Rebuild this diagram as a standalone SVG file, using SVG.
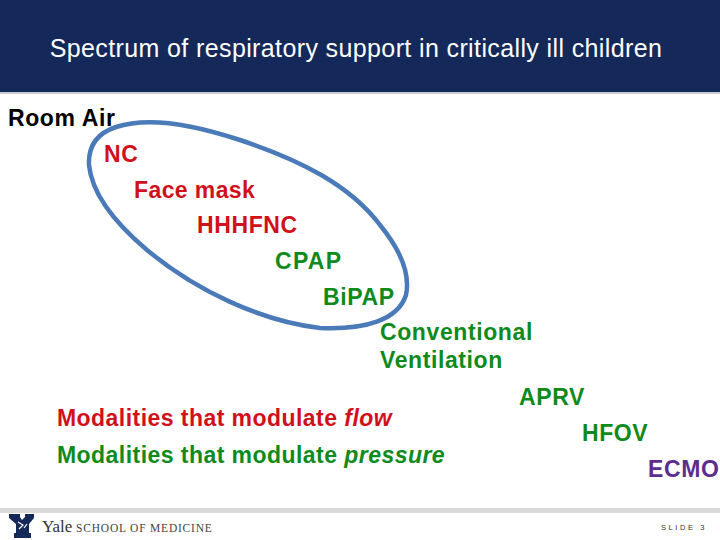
<svg xmlns="http://www.w3.org/2000/svg" width="720" height="540" viewBox="0 0 720 540">
<style>
text{font-family:"Liberation Sans",Arial,sans-serif}
.m{font-size:23px;letter-spacing:.6px;font-weight:bold}
.k{fill:#000}.r{fill:#d0101a}.g{fill:#0f8a1c}.p{fill:#5b2d8e}
.b{font-size:23px;font-weight:bold;letter-spacing:.45px}
</style>
<rect width="720" height="540" fill="#fff"/>
<g id="header"><rect width="720" height="92" fill="#14295a"/><rect y="92" width="720" height="2" fill="#c8ccd4"/>
<text x="356" y="57" text-anchor="middle" font-size="25" letter-spacing=".38" fill="#fff">Spectrum of respiratory support in critically ill children</text></g>
<g id="connectors"><path d="M116 127C140 119 180 120 240 140C300 160 350 185 380 225C402 252 410 276 406 295C398 320 365 330 320 328C260 321 195 290 147 250C115 223 92 195 89 165C88 145 98 133 116 127Z" fill="none" stroke="#4a7ab8" stroke-width="4.5"/></g>
<g id="node-room-air"><text class="m k" x="8" y="126">Room Air</text></g>
<g id="node-nc"><text class="m r" x="104" y="162">NC</text></g>
<g id="node-face-mask"><text class="m r" x="134" y="198" letter-spacing=".4" style="letter-spacing:.4px">Face mask</text></g>
<g id="node-hhhfnc"><text class="m r" x="197" y="233">HHHFNC</text></g>
<g id="node-cpap"><text class="m g" x="275" y="269" style="letter-spacing:1.3px">CPAP</text></g>
<g id="node-bipap"><text class="m g" x="323" y="305">BiPAP</text></g>
<g id="node-ventilation"><text class="m g" x="380" y="340">Conventional</text><text class="m g" x="380" y="368">Ventilation</text></g>
<g id="node-aprv"><text class="m g" x="519" y="405">APRV</text></g>
<g id="node-hfov"><text class="m g" x="582" y="441">HFOV</text></g>
<g id="node-ecmo"><text class="m p" x="648" y="477">ECMO</text></g>
<g id="legend"><text class="b r" x="57" y="426">Modalities that modulate <tspan font-style="italic">flow</tspan></text>
<text class="b g" x="57" y="463">Modalities that modulate <tspan font-style="italic">pressure</tspan></text></g>
<g id="footer"><rect y="508" width="720" height="5" fill="#d9d9d9"/>
<path d="M9 514H20V517L22 520L25 517V514H34V518L29 524V533H31V538H14V533H16V524L9 518Z" fill="#14295a"/>
<path d="M18 522L23 525L19 529M24 528L27 524" fill="none" stroke="#fff" stroke-width="1.2"/>
<text x="42" y="532" font-size="17" fill="#333" style="font-family:'Liberation Serif',serif">Yale</text>
<text x="76" y="532" font-size="11.5" fill="#444" letter-spacing=".8" style="font-family:'Liberation Serif',serif">SCHOOL OF MEDICINE</text>
<text x="661" y="530" font-size="7.5" fill="#333" letter-spacing="2.6">SLIDE 3</text></g>
</svg>
